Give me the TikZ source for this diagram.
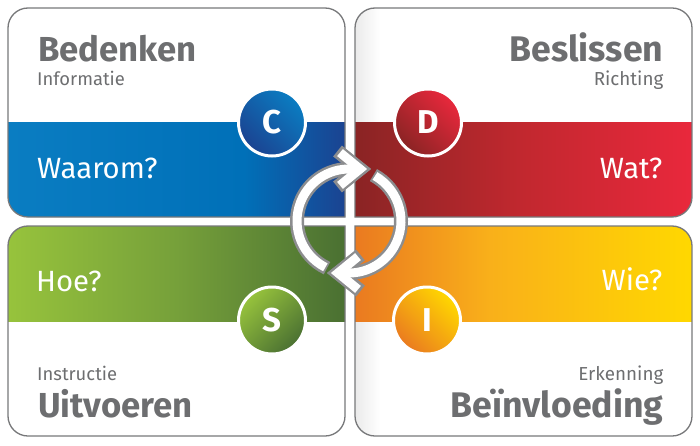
\documentclass[tikz,border=0pt]{standalone}
\usepackage{fontspec}
\setmainfont{Fira Sans}
\definecolor{txtgray}{HTML}{6D6E70}
\definecolor{edgegray}{HTML}{77787A}
\definecolor{ringgray}{HTML}{8C8D8F}
\definecolor{bA}{HTML}{0A7DC2}\definecolor{bB}{HTML}{0070B8}\definecolor{bC}{HTML}{1B4391}
\definecolor{rA}{HTML}{8A2424}\definecolor{rB}{HTML}{C2282F}\definecolor{rC}{HTML}{E9283C}
\definecolor{gA}{HTML}{97C33C}\definecolor{gB}{HTML}{76A03A}\definecolor{gC}{HTML}{4A7032}
\definecolor{oA}{HTML}{EA7A20}\definecolor{oB}{HTML}{F9B01A}\definecolor{oC}{HTML}{FFD800}
\pgfdeclarehorizontalshading{blueband}{100bp}{color(0bp)=(bA);color(25bp)=(bA);color(60bp)=(bB);color(75bp)=(bC);color(100bp)=(bC)}
\pgfdeclarehorizontalshading{redband}{100bp}{color(0bp)=(rA);color(25bp)=(rA);color(50bp)=(rB);color(75bp)=(rC);color(100bp)=(rC)}
\pgfdeclarehorizontalshading{greenband}{100bp}{color(0bp)=(gA);color(25bp)=(gA);color(50bp)=(gB);color(75bp)=(gC);color(100bp)=(gC)}
\pgfdeclarehorizontalshading{orangeband}{100bp}{color(0bp)=(oA);color(25bp)=(oA);color(45bp)=(oB);color(75bp)=(oC);color(100bp)=(oC)}
\tikzset{
  x=1pt,y=1pt,
  panel/.style={draw=edgegray,line width=1.3pt},
  titletext/.style={text=txtgray,font=\fontsize{34.7}{34}\selectfont\bfseries,inner sep=0pt},
  titleright/.style={text=txtgray,font=\fontsize{35.6}{35}\selectfont\bfseries,inner sep=0pt},
  subtext/.style={text=txtgray,font=\fontsize{18.4}{18}\selectfont,inner sep=0pt},
  subright/.style={text=txtgray,font=\fontsize{18.8}{18}\selectfont,inner sep=0pt},
  asktext/.style={text=white,font=\fontsize{29.3}{29}\selectfont,inner sep=0pt},
  badge/.style={circle,draw=white,line width=3pt,minimum size=67pt,inner sep=0pt,text=white,font=\fontsize{33}{33}\selectfont\bfseries},
  ringbase/.style={draw=ringgray,line width=14pt,miter limit=10},
  ringtop/.style={draw=white,line width=9pt,miter limit=10}
}
\newcommand{\TLpath}{(345,228) [rounded corners=20pt] -- (8,228) -- (8,437) -- (345,437) [sharp corners] -- cycle}
\newcommand{\TRpath}{(355,228) [rounded corners=20pt] -- (692,228) -- (692,437) -- (355,437) [sharp corners] -- cycle}
\newcommand{\BLpath}{(345,219) [rounded corners=20pt] -- (8,219) -- (8,9) -- (345,9) [sharp corners] -- cycle}
\newcommand{\BRpath}{(355,219) [rounded corners=20pt] -- (692,219) -- (692,9) -- (355,9) [sharp corners] -- cycle}
\begin{document}
\begin{tikzpicture}
\useasboundingbox (0,0) rectangle (700,445);
% faint fade on inner edge of right white areas
\begin{scope}
  \clip \TRpath;
  \shade[left color=black!8,right color=white] (355,322) rectangle (380,437);
\end{scope}
\begin{scope}
  \clip \BRpath;
  \shade[left color=black!8,right color=white] (355,9) rectangle (380,124);
\end{scope}
% bands
\begin{scope}
  \clip \TLpath;
  \shade[shading=blueband] (8,322) rectangle (345,228);
\end{scope}
\begin{scope}
  \clip \TRpath;
  \shade[shading=redband] (355,322) rectangle (692,228);
\end{scope}
\begin{scope}
  \clip \BLpath;
  \shade[shading=greenband] (8,124) rectangle (345,219);
\end{scope}
\begin{scope}
  \clip \BRpath;
  \shade[shading=orangeband] (355,124) rectangle (692,219);
\end{scope}
% panel outlines
\draw[panel] \TLpath;
\draw[panel] \TRpath;
\draw[panel] \BLpath;
\draw[panel] \BRpath;
% badges
\node[badge,shade,left color=bC,right color=bA,shading angle=135] (c) at (272,322.5) {C};
\node[badge,shade,left color=rA,right color=rC,shading angle=135] (d) at (428,322.5) {D};
\node[badge,shade,left color=gA,right color=gC,shading angle=45] (s) at (272,124.5) {S};
\node[badge,shade,left color=oA,right color=oC,shading angle=135] (i) at (427,124.5) {I};
% texts
\node[titletext,anchor=base west] (t1) at (38,383) {Bedenken};
\node[subtext,anchor=base west] (s1) at (37,359) {Informatie};
\node[asktext,anchor=base west] (a1) at (37,267) {Waarom?};
\node[titleright,anchor=base east] (t2) at (663.5,383) {Beslissen};
\node[subright,anchor=base east] (s2) at (663.5,359) {Richting};
\node[asktext,anchor=base east] (a2) at (662.5,267) {Wat?};
\node[asktext,anchor=base west] (a3) at (36,154) {Hoe?};
\node[subtext,anchor=base west] (s3) at (37,65) {Instructie};
\node[titletext,anchor=base west] (t3) at (38,28) {Uitvoeren};
\node[asktext,anchor=base east] (a4) at (662.5,155) {Wie?};
\node[subright,anchor=base east] (s4) at (663.5,65) {Erkenning};
\node[titleright,anchor=base east] (t4) at (663.5,28) {Beïnvloeding};
% cycle arrows
\begin{scope}[shift={(349,224)}]
  \draw[ringbase] (245:52) arc (245:78:52);
  \draw[ringbase] (62:52) arc (62:-102:52);
  \draw[ringbase] (-11.5,70) -- (11,52) -- (-11.5,34);
  \draw[ringbase] (11.5,-70) -- (-11,-52) -- (11.5,-34);
  \draw[ringtop] (243:52) arc (243:78:52);
  \draw[ringtop] (60:52) arc (60:-102:52);
  \draw[ringtop] (-9,68.4) -- (11,52) -- (-9,35.6);
  \draw[ringtop] (9,-68.4) -- (-11,-52) -- (9,-35.6);
\end{scope}
\end{tikzpicture}
\end{document}
